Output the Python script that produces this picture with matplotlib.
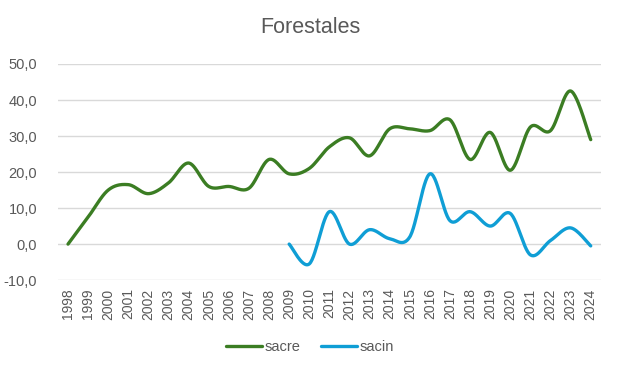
import numpy as np
import matplotlib

matplotlib.use("Agg")
import matplotlib.pyplot as plt

plt.rcParams["font.family"] = ["Liberation Sans", "DejaVu Sans"]

YEARS = [str(y) for y in range(1998, 2025)]
SACRE = [0, 7.5, 15, 16.5, 14, 17, 22.5, 16, 16, 15.5, 23.5, 19.5, 21, 27, 29.5,
         24.5, 32, 32, 31.5, 34.5, 23.5, 31, 20.5, 32.5, 31.5, 42.5, 29]
SACIN_YEARS = [str(y) for y in range(2009, 2025)]
SACIN = [0, -5.5, 9, 0, 4, 1.5, 2, 19.5, 6.5, 9, 5, 8.5, -3, 1, 4.5, -0.5]

GREEN = "#3B7D23"
BLUE = "#0F9ED5"
GREY = "#595959"


def smooth(x, y, n=30):
    """Excel-like smoothed line: cubic Bezier through points (Catmull-Rom controls)."""
    x = np.asarray(x, float)
    y = np.asarray(y, float)
    px = np.concatenate([[x[0]], x, [x[-1]]])
    py = np.concatenate([[y[0]], y, [y[-1]]])
    xs, ys = [], []
    t = np.linspace(0, 1, n)
    for i in range(1, len(px) - 2):
        p0 = np.array([px[i], py[i]])
        p3 = np.array([px[i + 1], py[i + 1]])
        c1 = p0 + (np.array([px[i + 1], py[i + 1]]) - np.array([px[i - 1], py[i - 1]])) / 6
        c2 = p3 - (np.array([px[i + 2], py[i + 2]]) - np.array([px[i], py[i]])) / 6
        b = ((1 - t) ** 3)[:, None] * p0 + (3 * (1 - t) ** 2 * t)[:, None] * c1 \
            + (3 * (1 - t) * t ** 2)[:, None] * c2 + (t ** 3)[:, None] * p3
        xs.extend(b[:, 0])
        ys.extend(b[:, 1])
    return xs, ys


fig = plt.figure(figsize=(6.2, 3.72), dpi=100)
ax = fig.add_axes([0.0935, 0.247, 0.8755, 0.581])

xi = np.arange(len(YEARS))
sx = [YEARS.index(y) for y in SACIN_YEARS]
gx, gy = smooth(xi, SACRE)
ax.plot(gx, gy, color=GREEN, lw=2.4, solid_capstyle="round", label="sacre")
bx, by = smooth(sx, SACIN)
ax.plot(bx, by, color=BLUE, lw=2.4, solid_capstyle="round", label="sacin")

ax.set_xlim(-0.5, len(YEARS) - 0.5)
ax.set_ylim(-10, 50)
ax.set_yticks(np.arange(-10, 51, 10))
ax.set_yticklabels([f"{v:.1f}".replace(".", ",") for v in np.arange(-10, 51, 10)])
ax.set_xticks(xi)
ax.set_xticklabels(YEARS, rotation=90)
ax.tick_params(axis="y", length=0, labelsize=10.5, labelcolor=GREY, pad=15)
ax.tick_params(axis="x", length=0, labelsize=10, labelcolor=GREY, pad=6)
ax.yaxis.grid(True, color="#d9d9d9", lw=1)
ax.set_axisbelow(True)
for s in ax.spines.values():
    s.set_visible(False)

fig.text(0.5, 0.925, "Forestales", fontsize=15.5, color=GREY, ha="center", va="center")
fig.legend(loc="center", bbox_to_anchor=(0.5, 0.068), ncol=2, frameon=False,
           fontsize=10.5, labelcolor=GREY, handlelength=2.5, handletextpad=0.15,
           columnspacing=1.4)

fig.savefig("out.png", dpi=100)
